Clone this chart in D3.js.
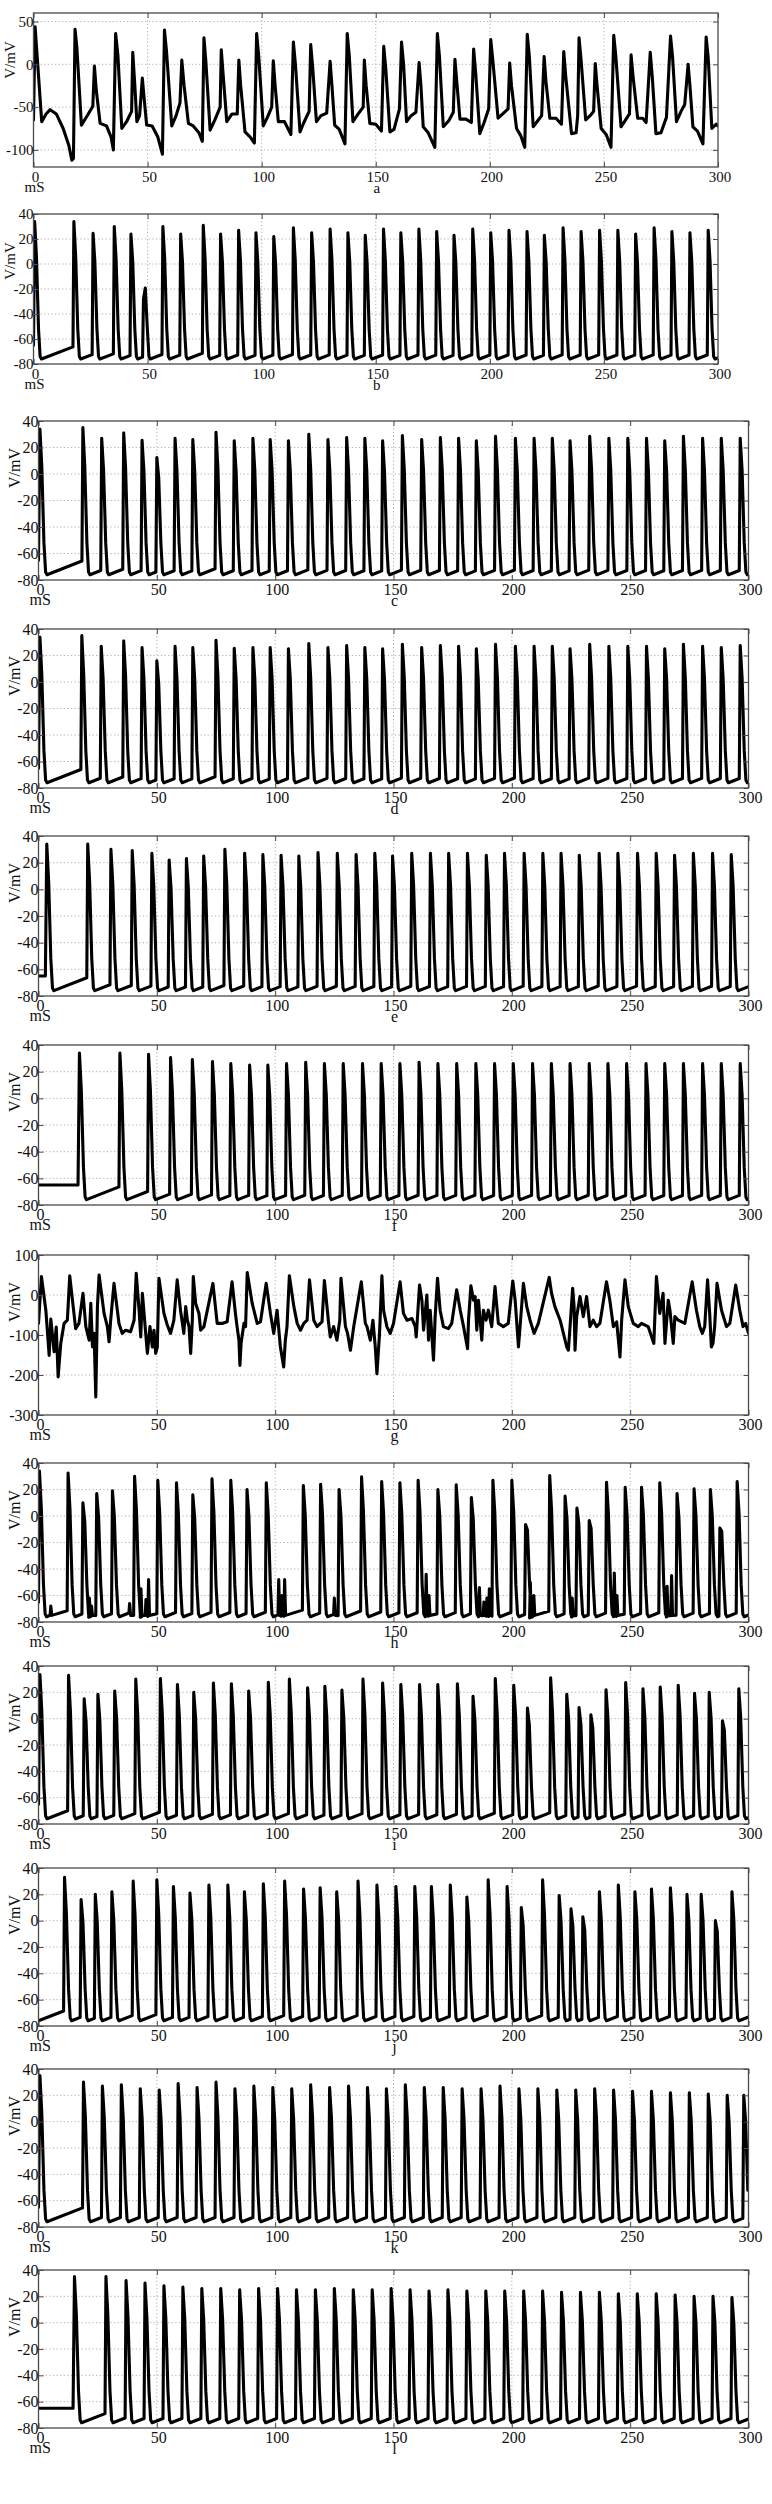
<!DOCTYPE html>
<html>
<head>
<meta charset="utf-8">
<script src="https://cdn.jsdelivr.net/npm/d3@7"></script>
<style>
  html, body { margin: 0; padding: 0; background: #fff; }
  svg { display: block; }
  text { font-family: "Liberation Serif", "Times New Roman", serif; fill: #111; }
</style>
</head>
<body>
<svg id="chart" width="772" height="2504"></svg>
<script>
// ---------------- DATA ----------------
const panelLetters = ["a","b","c","d","e","f","g","h","i","j","k","l"];
const xTicks = [0, 50, 100, 150, 200, 250, 300];
const yTicksA = [-100, -50, 0, 50];
const yTicksStd = [-80, -60, -40, -20, 0, 20, 40];
const yTicksG = [-300, -200, -100, 0, 100];
const xUnit = "mS";
const yUnit = "V/mV";

// panel a: explicit trace [t(ms), V(mV)]
const traceA = [[0,-65],[0.7,44],[3.6,-67],[5.5,-58],[7.3,-53],[10,-58],[13,-75],[15.5,-95],[16.8,-112],[17.5,-110],[18.2,41],[19,20],[21,-71],[24,-58],[26,-49],[26.7,-2],[27.5,-30],[29.2,-69],[32,-72],[34,-85],[35,-100],[36,36],[37,10],[38.7,-75],[41,-66],[43,-55],[43.5,14],[44.3,-20],[45.3,-67],[46.5,-60],[47.7,-16],[48.5,-40],[49.6,-71],[52,-72],[54.5,-85],[56.5,-105],[57.4,40],[58.3,15],[60.6,-72],[62.5,-60],[64.2,-45],[65,5],[66,-25],[67.9,-69],[70,-72],[72.5,-80],[74,-90],[74.7,31],[75.5,5],[77.4,-77],[79.5,-65],[81.8,-50],[82.3,17],[83.2,-15],[84.7,-67],[87,-58],[89.3,-58],[90,5],[90.8,-25],[92.7,-79],[95,-85],[96.8,-92],[97.8,36],[98.7,10],[100.7,-72],[102.5,-62],[104.4,-50],[105.1,4],[105.9,-25],[107.3,-67],[110,-67],[112.8,-82],[113.9,26],[114.8,0],[116.8,-79],[118.5,-68],[120.8,-55],[121.5,23],[122.4,-5],[124,-67],[126,-60],[128.5,-57],[130,3.5],[130.8,-25],[132,-71],[134,-76],[136.5,-93],[137.5,36],[138.4,10],[140,-67],[142.3,-58],[144.5,-50],[145,5],[145.8,-25],[147.4,-69],[150,-70],[152.5,-78],[153.5,21],[154.4,-5],[156.2,-79],[158,-76],[160.4,-52],[161.3,26],[162.2,0],[163.5,-67],[165.5,-60],[167.6,-56],[169,2],[169.8,-25],[170.8,-73],[173,-80],[175.9,-97],[177,36],[177.9,10],[179.6,-73],[182,-66],[184,-56],[184.7,6],[185.5,-20],[186.9,-64],[189.5,-64],[191.9,-68],[192.9,18],[193.8,-10],[195.6,-81],[197.5,-68],[199.5,-52],[200.4,29],[201.3,5],[203.6,-63],[206,-57],[208,-52],[208.7,1.6],[209.5,-25],[211.7,-75],[213.5,-83],[215.3,-97],[216.4,35],[217.3,10],[219,-73],[221,-66],[222.7,-60],[223.8,9],[224.6,-20],[226.3,-63],[229,-63],[231.4,-70],[232.4,15],[233.3,-15],[235.8,-81],[237.8,-80],[238.5,-60],[239.1,31],[240,5],[242,-65],[244.3,-59],[245.5,-55],[246.2,1],[247,-25],[248.8,-75],[251,-82],[253.1,-97],[254.3,34],[255.2,10],[257.5,-73],[259.5,-65],[261.2,-58],[261.9,11],[262.8,-15],[264.8,-63],[267,-63],[268.5,-68],[270.3,14],[271.2,-15],[272.8,-81],[275,-80],[277.4,-62],[279.2,33],[280.1,8],[281.8,-67],[283.8,-55],[285.4,-47],[286.9,0],[287.7,-25],[289,-73],[291,-78],[293.4,-93],[294.8,32],[295.7,8],[297.3,-75],[299.2,-70],[300,-72]];

// panel g: explicit noisy trace [t, V]
const traceG = [[0,-71],[1.25,46],[3.1,-38],[4.5,-151],[5.2,-60],[6.6,-142],[7.5,-80],[8.3,-205],[9.4,-121],[10.8,-71],[12.2,-63],[13.2,48],[15.7,-84],[17.1,-71],[18.8,4],[20,-79],[21.4,-113],[22.1,-21],[22.8,-130],[23.5,-96],[24.2,-255],[24.9,-29],[25.6,50],[27.7,-46],[29.1,-79],[29.8,-117],[30.5,-63],[31.9,29],[34,-71],[35.4,-96],[36.8,-88],[38.9,-92],[40.4,-63],[41.3,54],[42.5,-38],[43.2,-105],[43.9,4],[46,-146],[47.1,-79],[48.1,-130],[48.8,-88],[49.5,-146],[50.2,-130],[50.9,42],[53,-46],[54.4,-75],[55.8,-96],[57.2,-63],[58.6,38],[60,-38],[61.4,-96],[62.2,-29],[62.9,-63],[63.6,-79],[64.3,-146],[65,-63],[65.4,46],[66.4,-21],[67.8,-46],[68.5,-88],[69.9,-79],[73.7,29],[75.5,-71],[77.6,-71],[79.7,-67],[81.8,33],[83.2,-46],[83.9,-79],[84.7,-113],[85.1,-176],[85.6,-121],[86.8,-71],[87.5,-79],[88.2,56],[90.3,-21],[92.4,-71],[93.8,-67],[96.2,29],[98,-46],[99.4,-96],[100.8,-38],[102.2,-130],[103.6,-180],[104.3,-113],[105,-79],[106,48],[107.9,-29],[109.3,-71],[110.7,-88],[112.1,-71],[113.5,-63],[114.5,38],[116.3,-63],[117.7,-79],[119.1,-71],[119.8,-67],[120.8,36],[122.6,-71],[123.3,-105],[124.7,-79],[126.1,-113],[127.3,-63],[127.8,42],[129.7,-79],[130.6,-96],[131.8,-138],[133.2,-79],[136.4,33],[138.1,-71],[138.8,-79],[140.2,-113],[141.3,-63],[142.3,-130],[143,-197],[144.1,-96],[145.1,48],[145.8,-38],[147.2,-79],[148.6,-96],[150,-71],[152.8,33],[154.2,-46],[155.7,-63],[157.8,-59],[159.2,-79],[159.6,-105],[161,25],[162,-13],[162.7,-88],[164.1,0],[164.8,-113],[165.5,-38],[166.9,-163],[167.6,-54],[168.6,42],[169.7,-38],[171.1,-79],[173.2,-84],[174.6,-71],[176.7,13],[178.2,-38],[179.6,-79],[181.3,-134],[181.7,-63],[182.7,23],[183.8,-13],[184.5,-4],[185.2,-88],[185.9,-13],[187.3,-113],[188,-38],[189.1,-63],[190.1,-38],[191.5,-79],[192.9,21],[194.3,-71],[196.4,-79],[198.5,-71],[200.4,35],[201.4,-13],[202.8,-130],[204.9,29],[206.3,-29],[207.7,-63],[209.4,-96],[211.2,-71],[215.8,44],[216.8,4],[218.2,-29],[220.4,-63],[221.8,-96],[223.2,-130],[223.9,-138],[224.6,-79],[225.7,17],[226.3,-29],[226.7,-138],[227.4,-54],[228.8,-4],[230.2,-54],[231.6,-4],[233,-79],[234.4,-63],[235.8,-79],[237.2,-71],[240,33],[241.4,-13],[242.9,-79],[244.3,-67],[245.7,-155],[246.4,-63],[247.8,38],[249.2,-29],[251.3,-71],[253.4,-79],[254.8,-71],[257.6,-79],[260,-121],[261.1,46],[262.5,-46],[263.9,4],[264.7,-121],[266.1,-13],[266.8,-38],[268.2,-121],[268.9,-54],[270.3,-63],[273.1,-71],[276.2,33],[278,-38],[279.4,-79],[280.5,-96],[281.5,-79],[282.7,38],[283.6,-46],[284.3,-130],[285,-121],[285.7,-79],[286.7,29],[288.6,-38],[290.7,-79],[292.1,-71],[294.6,25],[296.3,-38],[297.7,-79],[298.8,-71],[300,-96]];

// spiking panels: start segment, spikes [time, peak], small sub-threshold blips [time, V]
const startB = [[0,-65]];
const spikesB = [[0.5,34],[17.7,34],[26.1,24.5],[35.4,30],[42.7,24],[48.2,-28],[56.7,30],[64.5,24],[74.4,31],[82,24],[89.9,27],[97.5,25],[105.3,22],[113.9,29],[121.9,25],[130,28],[137.8,25],[145.4,23],[153.4,28],[161,25],[168.9,28],[176.7,26],[184.3,23],[192.5,28],[200.4,25],[208.4,27],[216.3,26],[223.9,23],[232.1,29],[240,26],[248.1,27],[256.1,27],[263.9,24],[272,29],[279.8,26],[287.7,25],[295.7,27]];

const startC = [[0,-65]];
const spikesC = [[0.6,34],[18.75,35],[26.7,27],[36,31],[43.75,25.5],[50,12.5],[57.7,27],[65.2,26],[75,31.5],[82.7,25],[90.6,27],[97.9,26],[105.6,25],[114.2,30],[122.3,26],[130.2,27.5],[137.9,27],[145.4,25],[153.75,29],[161.9,26],[169.8,27.5],[177.5,27],[185,25],[193.1,28.5],[201.5,27],[209.4,27],[217.1,27],[224.6,25],[232.9,28.5],[241,27],[249,27],[256.9,27],[264.6,25],[272.5,28.5],[280.6,27],[288.5,27],[296.5,27]];

const startD = [[0,-65]];
const spikesD = [[0.6,34],[18.3,35],[26.5,27],[36,31],[43.75,26],[50,16],[57.7,27],[65.2,26],[75,31.5],[82.7,25.5],[90.6,26],[97.9,26],[105.6,25],[114.2,29],[122.3,26],[130.2,27.5],[137.9,26],[145.4,25],[153.75,28.5],[161.9,26],[169.8,27.5],[177.5,27],[185,25],[193.1,28.5],[201.5,27],[209.4,27],[217.1,27],[224.6,25],[232.9,28.5],[241,27],[249,27],[256.9,27],[264.6,25],[272.5,28.5],[280.6,27],[288.5,26],[296.5,27.5]];

const startE = [[0,-65],[2.9,-65]];
const spikesE = [[3.5,34],[20.8,34],[30.6,30],[39.6,29],[47.9,27],[55.2,22],[62.5,23],[69.8,25],[78.75,30],[87.1,27],[94.8,26],[102.5,25.5],[110,25],[118.1,27.5],[126.25,27],[134.2,26],[142.1,27],[149.6,25],[157.7,27],[165.6,27],[173.3,27],[181.25,27],[189.2,25.5],[196.9,27],[205.2,27],[213.1,27],[220.8,27],[228.5,25.5],[236.9,27],[244.8,27],[253.1,27],[261,27],[268.75,25.5],[276.7,27],[284.8,27],[292.7,26]];

const startF = [[0,-65],[16.7,-65]];
const spikesF = [[17.3,34],[34.4,34],[46.5,33],[55.8,30.5],[65,29],[73.5,27.5],[81.25,26],[89.2,25],[96.9,25],[104.8,26],[112.9,27],[120.8,26],[128.75,26],[136.9,26],[144.8,26],[152.7,26],[160.8,27],[168.75,26],[176.7,26],[184.8,26],[192.7,26],[200.6,26],[208.75,26],[216.7,26],[224.6,26],[232.7,26],[240.6,26],[248.5,26],[256.7,26],[264.6,26],[272.5,26],[280.6,26],[288.5,26],[296.5,26]];

const startH = [[0,-65]];
const spikesH = [[0.4,34],[12.5,32.5],[18.75,10],[24.6,17],[31.25,19],[40.6,30],[50.4,27],[58.3,25],[65.2,16],[73.3,28],[81.25,27],[88.1,20],[96.25,25],[111.9,23],[119.2,24],[127,20],[136.5,29.5],[145,26],[152.7,25],[160.4,27],[168.75,20],[176.5,23.6],[182.9,14],[192,27],[200,27],[205.8,-6.5],[216,30.5],[222.5,15],[227.5,6],[232.7,-3.5],[240,25.5],[247.9,21.6],[254.8,21.6],[262.5,25],[269.8,17],[277,20.5],[283.9,20],[287.9,-9],[295.2,26]];
const blipsH = [[5.2,-68],[21.5,-62],[22.4,-68],[38.5,-66],[43.3,-55],[45.4,-63],[46.5,-48],[101.5,-48],[102.8,-60],[104,-48],[125,-62],[163.8,-44],[165,-60],[186.3,-54],[188.2,-65],[189.5,-62],[190.5,-55],[207.8,-50],[209.3,-60],[225.5,-62],[243.3,-43],[244.4,-60],[265.6,-53],[267.5,-45]];

const startI = [[0,-65]];
const spikesI = [[0.6,33.6],[12.7,33],[19.3,15],[25.1,18.6],[32.2,21],[41.1,30],[51.5,30.5],[58.7,26],[65.6,20],[73.9,27],[81.5,26.5],[88.8,21],[97.1,27.6],[106,30],[113.7,23.4],[121,24.6],[128.2,21.7],[137.1,30],[145.4,27],[153.1,26],[161,26],[168.7,26],[177,26.5],[183.6,17],[193,30.5],[200.8,25.3],[206.6,8],[216.4,31],[223.2,18.6],[228.4,8.4],[233.4,3],[239.8,22],[248.1,27.4],[255.4,22.7],[262.7,24],[270.3,25.3],[277.2,19.3],[283.4,20],[289,-1.6],[295.9,22.7]];

const startJ = [[0,-76]];
const spikesJ = [[11,33],[18,16],[24,20],[31,22],[40,30],[50,31],[57,26],[64,21],[72,27],[80,27],[87,22],[95,28],[104,30],[112,24],[119,25],[126,22],[135,30],[143,27],[151,26],[159,26],[166,26],[174,27],[181,18],[190,31],[198,26],[204,10],[213,31],[220,19],[225,9],[230,3],[237,22],[245,27],[252,22],[259,24],[267,25],[274,20],[280,20],[286,0],[293,22]];

const startK = [[0,-65]];
const spikesK = [[0.6,35],[19,30],[27,27],[35,28],[43,25],[51,24],[59,29],[67,26],[75,30],[83,25],[91,27],[99,26],[107,25],[115,28],[123,26],[131,27],[139,26],[147,25],[155,28],[163,26],[171,26],[179,25],[187,25],[195,27],[203,25],[211,25],[219,24],[227,24],[235,25],[243,24],[251,23],[259,23],[267,22],[275,22],[283,21],[291,20],[298,20]];

const startL = [[0,-65],[14.6,-65]];
const spikesL = [[15.2,35],[28.5,35],[37,32],[45,30],[53,28],[61,27],[69,26],[77,26],[85,25],[93,26],[101,26],[109,25],[117,25],[125,26],[133,25],[141,25],[149,26],[157,25],[165,24],[173,25],[181,24],[189,24],[197,24],[205,24],[213,24],[221,23],[229,23],[237,23],[245,22],[253,22],[261,22],[269,21],[277,20],[285,20],[293,19]];

// ---------------- build spike-train vertices from the read spike list ----------------
function spikeTrain(start, spikes, blips) {
  const pts = start.map(d => d.slice());
  const ev = spikes.map(d => ({t: d[0], v: d[1], k: "s"}))
    .concat((blips || []).map(d => ({t: d[0], v: d[1], k: "b"})))
    .sort((a, b) => a.t - b.t);
  const last = start[start.length - 1];
  // if the record starts in the after-hyperpolarisation, let it ramp up
  let lastT = last[1] <= -74 ? last[0] : null;
  const ramp = (t) => Math.min(-64, -76 + 0.7 * (t - lastT));
  ev.forEach(e => {
    if (e.k === "s") {
      if (lastT !== null) pts.push([e.t - 0.4, ramp(e.t - 0.4)]);
      pts.push([e.t, e.v]);
      pts.push([e.t + 0.8, e.v * 0.4 - 8]);
      pts.push([e.t + 1.7, -52]);
      pts.push([e.t + 2.4, -74]);
      pts.push([e.t + 3.0, -76]);
      lastT = e.t + 3.0;
    } else {
      if (lastT !== null) pts.push([e.t - 0.3, ramp(e.t - 0.3)]);
      pts.push([e.t, e.v]);
      pts.push([e.t + 0.4, -75]);
      lastT = e.t + 0.4;
    }
  });
  if (lastT !== null && lastT < 300) pts.push([300, ramp(300)]);
  return pts.filter(d => d[0] <= 300);
}

// ---------------- layout ----------------
const narrow = {left: 33.5, right: 718};
const wide = {left: 38.5, right: 748.5};
const panels = [
  {top: 13,   h: 154, box: narrow, dom: [-120, 60], ticks: yTicksA, trace: traceA, fs: 15},
  {top: 214,  h: 150, box: narrow, dom: [-80, 40], ticks: yTicksStd, trace: spikeTrain(startB, spikesB), fs: 15},
  {top: 421,  h: 159, box: wide, dom: [-80, 40], ticks: yTicksStd, trace: spikeTrain(startC, spikesC), fs: 16},
  {top: 629,  h: 159, box: wide, dom: [-80, 40], ticks: yTicksStd, trace: spikeTrain(startD, spikesD), fs: 16},
  {top: 836,  h: 160, box: wide, dom: [-80, 40], ticks: yTicksStd, trace: spikeTrain(startE, spikesE), fs: 16},
  {top: 1045, h: 160, box: wide, dom: [-80, 40], ticks: yTicksStd, trace: spikeTrain(startF, spikesF), fs: 16},
  {top: 1255, h: 160, box: wide, dom: [-300, 100], ticks: yTicksG, trace: traceG, fs: 16},
  {top: 1463, h: 159, box: wide, dom: [-80, 40], ticks: yTicksStd, trace: spikeTrain(startH, spikesH, blipsH), fs: 16},
  {top: 1666, h: 158, box: wide, dom: [-80, 40], ticks: yTicksStd, trace: spikeTrain(startI, spikesI), fs: 16},
  {top: 1868, h: 158, box: wide, dom: [-80, 40], ticks: yTicksStd, trace: spikeTrain(startJ, spikesJ), fs: 16},
  {top: 2069, h: 158, box: wide, dom: [-80, 40], ticks: yTicksStd, trace: spikeTrain(startK, spikesK), fs: 16},
  {top: 2270, h: 158, box: wide, dom: [-80, 40], ticks: yTicksStd, trace: spikeTrain(startL, spikesL), fs: 16}
];

const svg = d3.select("#chart");
svg.append("rect").attr("width", 772).attr("height", 2504).attr("fill", "#fff");
const frameColor = "#4a4a4a";

panels.forEach((p, i) => {
  const x = d3.scaleLinear().domain([0, 300]).range([p.box.left, p.box.right]);
  const y = d3.scaleLinear().domain(p.dom).range([p.top + p.h, p.top]);
  const g = svg.append("g");
  const L = p.box.left, R = p.box.right, T = p.top, B = p.top + p.h;

  // grid
  g.selectAll(null).data(xTicks.filter(t => t > 0 && t < 300)).join("line")
    .attr("x1", d => x(d)).attr("x2", d => x(d)).attr("y1", T).attr("y2", B)
    .attr("stroke", "#9a9a9a").attr("stroke-width", 0.8).attr("stroke-dasharray", "1.2,2.4");
  g.selectAll(null).data(p.ticks.filter(t => t > p.dom[0] && t < p.dom[1])).join("line")
    .attr("x1", L).attr("x2", R).attr("y1", d => y(d)).attr("y2", d => y(d))
    .attr("stroke", "#9a9a9a").attr("stroke-width", 0.8).attr("stroke-dasharray", "1.2,2.4");

  // trace
  const cid = "clip" + i;
  svg.append("clipPath").attr("id", cid).append("rect")
    .attr("x", L).attr("y", T).attr("width", R - L).attr("height", B - T);
  g.append("path").datum(p.trace)
    .attr("clip-path", `url(#${cid})`)
    .attr("fill", "none").attr("stroke", "#000").attr("stroke-width", 3.1)
    .attr("stroke-linejoin", "round").attr("stroke-linecap", "round")
    .attr("d", d3.line().x(d => x(d[0])).y(d => y(d[1])));

  // axes (inward ticks on all four sides, MATLAB box style)
  const axB = g.append("g").attr("transform", `translate(0,${B})`)
    .call(d3.axisTop(x).tickValues(xTicks).tickSize(5).tickFormat(""));
  const axT = g.append("g").attr("transform", `translate(0,${T})`)
    .call(d3.axisBottom(x).tickValues(xTicks).tickSize(5).tickFormat(""));
  const axL = g.append("g").attr("transform", `translate(${L},0)`)
    .call(d3.axisRight(y).tickValues(p.ticks).tickSize(5).tickFormat(""));
  const axR = g.append("g").attr("transform", `translate(${R},0)`)
    .call(d3.axisLeft(y).tickValues(p.ticks).tickSize(5).tickFormat(""));
  [axB, axT, axL, axR].forEach(a => {
    a.select(".domain").remove();
    a.selectAll("line").attr("stroke", frameColor).attr("stroke-width", 1);
  });
  g.append("rect").attr("x", L).attr("y", T).attr("width", R - L).attr("height", B - T)
    .attr("fill", "none").attr("stroke", frameColor).attr("stroke-width", 1.3);

  // tick labels
  g.selectAll(null).data(xTicks).join("text")
    .attr("x", d => x(d) + 2).attr("y", B + 15)
    .attr("text-anchor", "middle").attr("font-size", p.fs)
    .text(d => d);
  g.selectAll(null).data(p.ticks).join("text")
    .attr("x", L).attr("y", d => y(d)).attr("dy", "0.35em")
    .attr("text-anchor", "end").attr("font-size", p.fs)
    .text(d => d);

  // unit labels and panel letter
  g.append("text").attr("x", L - 9).attr("y", B + 25)
    .attr("font-size", p.fs).text(xUnit);
  g.append("text").attr("x", x(150) + 1).attr("y", B + 26)
    .attr("text-anchor", "middle").attr("font-size", p.fs).text(panelLetters[i]);
  g.append("text")
    .attr("transform", `translate(${L - 19},${T + 47}) rotate(-90)`)
    .attr("text-anchor", "middle").attr("font-size", p.fs).text(yUnit);
});
</script>
</body>
</html>
